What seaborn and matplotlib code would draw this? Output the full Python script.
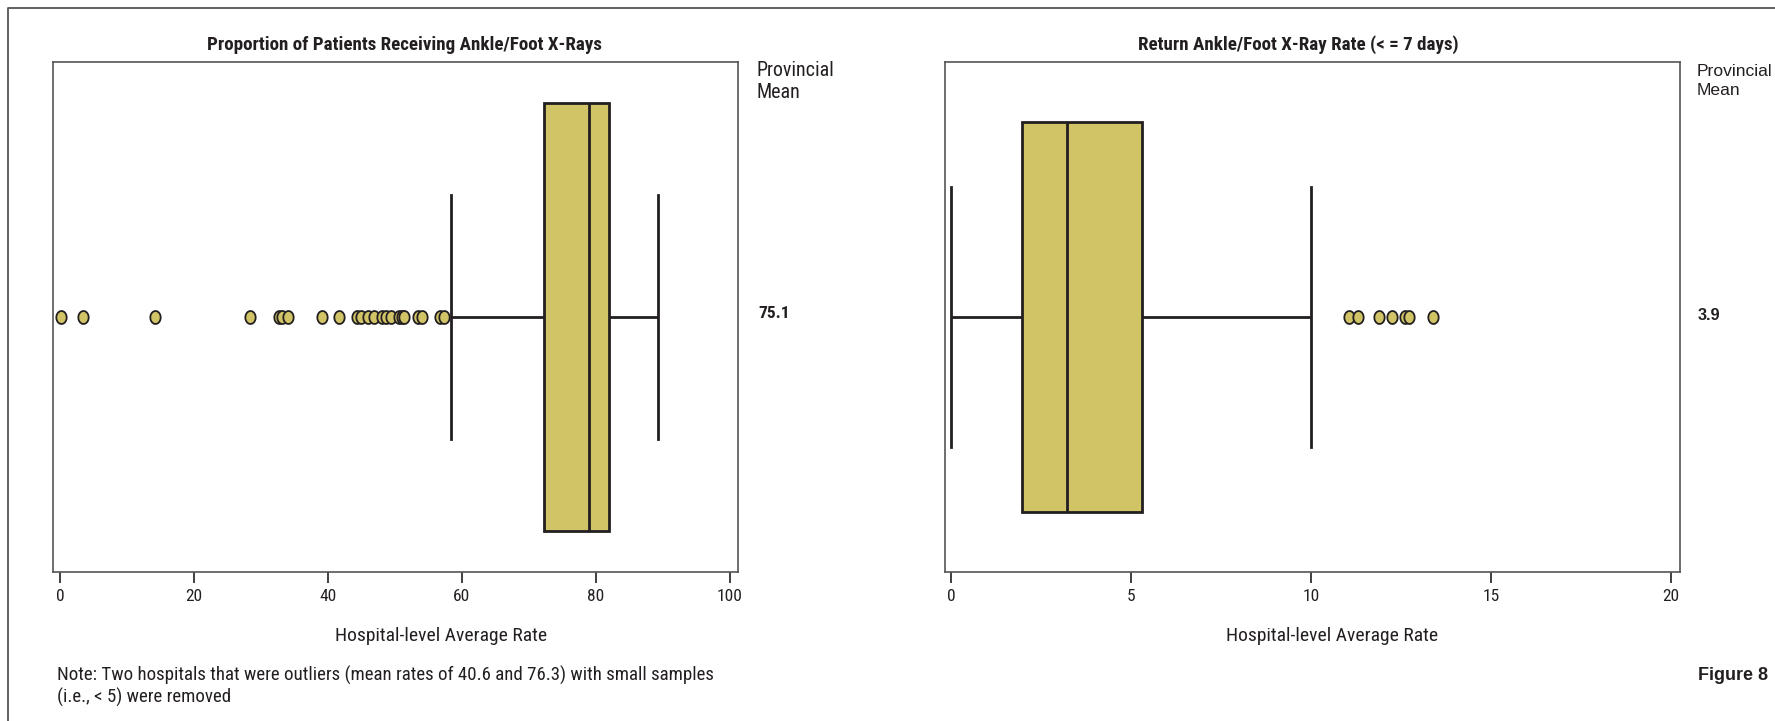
import numpy as np
import pandas as pd
import matplotlib
matplotlib.use("Agg")
import matplotlib.pyplot as plt
from matplotlib.path import Path
from matplotlib.lines import Line2D
from matplotlib import font_manager as fm
import seaborn as sns

# ---------------- data ----------------
xray_rates = [
    0.2, 3.4, 14.2, 28.3, 32.7, 33.2, 34.1, 39.1, 41.6, 44.4, 44.9, 45.9,
    46.8, 48.1, 48.7, 49.4, 50.6, 51.1, 51.4, 53.5, 54.0, 56.7, 57.3,
    58.3, 66.0,
    72.2,
    72.5, 72.9, 73.3, 73.6, 74.0, 74.3, 74.7, 75.0, 75.4, 75.7, 76.0, 76.3,
    76.6, 76.9, 77.1, 77.4, 77.6, 77.9, 78.1, 78.3, 78.5, 78.7, 78.8, 78.9,
    79.0,
    79.1, 79.2, 79.4, 79.5, 79.6, 79.8, 79.9, 80.0, 80.2, 80.3, 80.4, 80.6,
    80.7, 80.8, 80.9, 81.0, 81.2, 81.3, 81.4, 81.5, 81.6, 81.7, 81.8, 81.9,
    82.0,
    82.2, 82.5, 82.7, 83.0, 83.2, 83.5, 83.8, 84.0, 84.3, 84.6, 84.9, 85.1,
    85.4, 85.7, 86.0, 86.3, 86.6, 86.9, 87.2, 87.5, 87.8, 88.1, 88.5, 88.8,
    89.2,
]
return_rates = [
    0.0,
    0.0, 0.0, 0.3, 0.5, 0.6, 0.8, 0.9, 1.0, 1.1, 1.2, 1.3, 1.4,
    1.4, 1.5, 1.5, 1.6, 1.6, 1.7, 1.7, 1.8, 1.8, 1.9, 1.9, 1.95,
    1.98,
    2.0, 2.05, 2.1, 2.15, 2.2, 2.25, 2.3, 2.35, 2.4, 2.45, 2.5, 2.55,
    2.6, 2.65, 2.7, 2.75, 2.8, 2.85, 2.9, 2.95, 3.0, 3.05, 3.1, 3.17,
    3.22,
    3.3, 3.4, 3.5, 3.55, 3.6, 3.7, 3.8, 3.9, 4.0, 4.1, 4.15, 4.2,
    4.3, 4.4, 4.5, 4.6, 4.7, 4.8, 4.9, 5.0, 5.05, 5.1, 5.2, 5.25,
    5.31,
    5.4, 5.6, 5.8, 6.0, 6.2, 6.5, 6.7, 7.0, 7.2, 7.5, 7.8, 8.1,
    8.4, 8.8, 9.1, 9.4, 9.7, 10.0,
    11.06, 11.31, 11.90, 12.25, 12.62, 12.71, 13.39,
]
left_title = "Proportion of Patients Receiving Ankle/Foot X-Rays"
right_title = "Return Ankle/Foot X-Ray Rate (< = 7 days)"
left_ticks = [0, 20, 40, 60, 80, 100]
right_ticks = [0, 5, 10, 15, 20]
left_mean = "75.1"
right_mean = "3.9"
mean_label = "Provincial\nMean"
x_label = "Hospital-level Average Rate"
note_text = ("Note: Two hospitals that were outliers (mean rates of 40.6 and 76.3) with small samples\n"
             "(i.e., < 5) were removed")
figure_label = "Figure 8"

# ---------------- style ----------------
names = {f.name for f in fm.fontManager.ttflist}
COND = None
for cand in ["Liberation Sans Narrow", "Roboto Condensed", "Open Sans Condensed", "Noto Sans Condensed"]:
    if cand in names:
        COND = cand
        break
cond_kw = dict(family=[COND, "DejaVu Sans"]) if COND else dict(family=["DejaVu Sans"], stretch="condensed")
REG = "Liberation Sans" if "Liberation Sans" in names else "DejaVu Sans"

FILL = "#D0C466"
INK = "#231F20"
SPINE = "#555555"

W, H = 1775, 721
fig = plt.figure(figsize=(W / 100, H / 100), dpi=100)
fig.patch.set_facecolor("white")

def px_axes(x0, x1, y0, y1):
    return fig.add_axes([x0 / W, 1 - y1 / H, (x1 - x0) / W, (y1 - y0) / H])

def ftext(x, y, s, **kw):
    fig.text(x / W, 1 - y / H, s, **kw)

t = np.linspace(0, 2 * np.pi, 73)
ellipse = Path(np.column_stack([0.8 * np.cos(t), np.sin(t)]))

def draw_panel(ax, values, width, capw, ticks, xlim):
    sns.boxplot(x=values, ax=ax, color=FILL, linecolor=INK, linewidth=2.0,
                width=width, saturation=1, fliersize=9.3, capwidths=capw,
                flierprops=dict(marker=ellipse, markerfacecolor=FILL,
                                markeredgecolor=INK, markeredgewidth=1.3))
    ax.set_xlim(*xlim)
    ax.set_xticks(ticks)
    ax.set_xticklabels([str(v) for v in ticks], color=INK, fontsize=12.5, **cond_kw)
    ax.set_yticks([])
    ax.set_xlabel("")
    ax.set_ylabel("")
    for sp in ax.spines.values():
        sp.set_color(SPINE)
        sp.set_linewidth(1.2)
        sp.set_visible(True)
    ax.tick_params(axis="x", direction="out", length=8, width=1.2, color=INK, pad=4)
    ax.set_facecolor("white")

axL = px_axes(53, 738, 62, 572)
draw_panel(axL, xray_rates, 0.84, 0.48, left_ticks, (-1.05, 101.2))
axR = px_axes(945, 1680, 62, 572)
draw_panel(axR, return_rates, 0.763, 0.51, right_ticks, (-0.17, 20.25))

# titles
ftext(404, 45, left_title, ha="center", va="center", fontsize=13.7, fontweight="bold", color=INK, **cond_kw)
ftext(1298, 45, right_title, ha="center", va="center", fontsize=13.7, fontweight="bold", color=INK, **cond_kw)

# x labels
ftext(441, 636, x_label, ha="center", va="center", fontsize=14, color=INK, **cond_kw)
ftext(1332, 636, x_label, ha="center", va="center", fontsize=14, color=INK, **cond_kw)

# provincial mean labels
ftext(757, 81, mean_label, ha="left", va="center", fontsize=14.4, color=INK, linespacing=1.2, **cond_kw)
ftext(758, 314, left_mean, ha="left", va="center", fontsize=12.5, fontweight="bold", color=INK, **cond_kw)
ftext(1697, 81, mean_label, ha="left", va="center", fontsize=12.6, color=INK, linespacing=1.3, family=REG)
ftext(1698, 315, right_mean, ha="left", va="center", fontsize=11.7, fontweight="bold", color=INK, family=REG)

# note and figure label
ftext(57, 686, note_text, ha="left", va="center", fontsize=13.6, color=INK, linespacing=1.2, **cond_kw)
ftext(1698, 675, figure_label, ha="left", va="center", fontsize=13, fontweight="bold", color=INK, family=REG)

# page frame (top and left rules)
fig.add_artist(Line2D([8 / W, 8 / W, 1.0], [0.0, 1 - 8 / H, 1 - 8 / H],
                      transform=fig.transFigure, color="#555555", linewidth=1.3))

fig.savefig("out.png", dpi=100, facecolor="white")
